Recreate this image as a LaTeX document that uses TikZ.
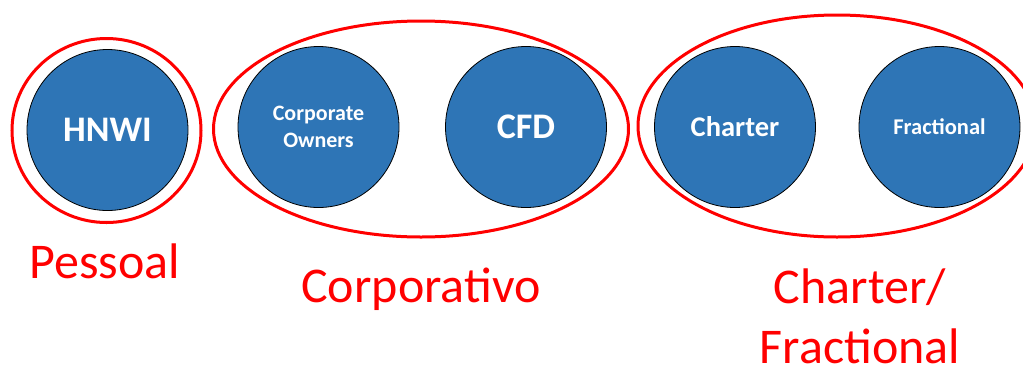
\documentclass[tikz,border=0pt]{standalone}
\usepackage{fontspec}
\setmainfont{Carlito}
\definecolor{segblue}{HTML}{2E75B6}
\definecolor{segred}{HTML}{FF0000}

\begin{document}
\begin{tikzpicture}[x=1pt, y=-1pt,
		client/.style={circle, draw=black, line width=0.8pt, fill=segblue, minimum size=161pt, inner sep=0pt, text=white, align=center},
		group/.style={draw=segred, line width=3pt},
		caption/.style={text=segred, font=\fontsize{50}{60}\selectfont, anchor=base, align=center}]
		\def\big{\bfseries\fontsize{36}{43}\selectfont}
		
		% Page frame
		\useasboundingbox (0,0) rectangle (1023,365);
		\clip (0,0) rectangle (1023,365);
		
		% Red rings round each segment
		\draw[group] (106.5,130.5) ellipse (94.5 and 92);
		\draw[group] (421,129) ellipse (207.5 and 108);
		\draw[group] (837,126) ellipse (199 and 111);
		
		% Client circles
		\node[client, font=\big] (hnwi) at (107.5,130) {HNWI};
		\node[client, font=\bfseries\fontsize{22}{27}\selectfont] (owners) at (318.5,127) {Corporate\\Owners};
		\node[client, font=\big] (cfd) at (526,127) {CFD};
		\node[client, font=\bfseries\fontsize{28.5}{34}\selectfont] (charter) at (735,127) {Charter};
		\node[client, font=\bfseries\fontsize{22.5}{27}\selectfont] (fractional) at (939.5,127) {Fractional};
		
		% Segment names (base sits on the last line)
		\node[caption] (pessoal) at (105,278) {Pessoal};
		\node[caption] (corporativo) at (421,302) {Corporativo};
		\node[caption] (charterfrac) at (860,363) {Charter/\\Fractional};
	\end{tikzpicture}
\end{document}
